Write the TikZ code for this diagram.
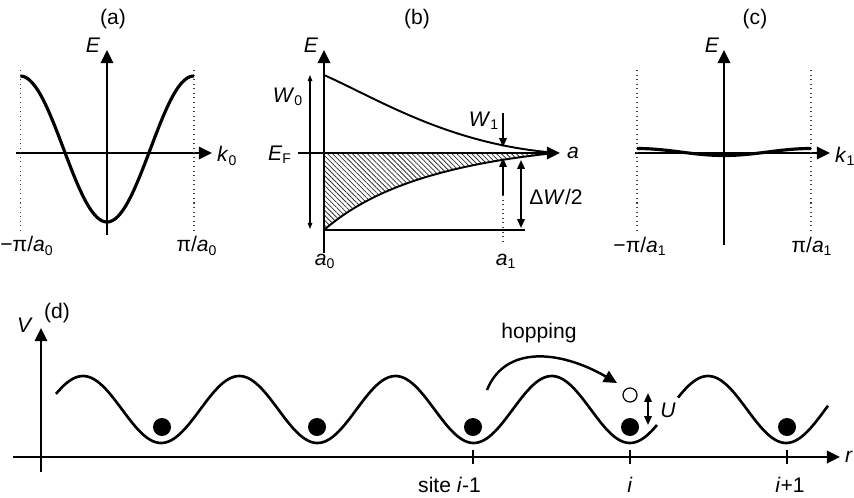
\documentclass[tikz,border=0pt]{standalone}
\usepackage{fontspec}
\setmainfont{Liberation Sans}
\usepackage{tikz}
\usetikzlibrary{arrows.meta,patterns.meta,calc}

\tikzset{
  axis/.style={line width=1.6pt,-{Triangle[length=7.5pt,width=7pt]}},
  band/.style={line width=1.8pt},
  zone/.style={line width=0.6pt,dotted,black!75},
  dimarrow/.style={line width=1pt,{Triangle[length=5pt,width=4.2pt]}-{Triangle[length=5pt,width=4.2pt]}},
  lbl/.style={font=\fontsize{12}{14}\selectfont,inner sep=0.5pt},
}

\begin{document}
\begin{tikzpicture}[x=0.02cm,y=-0.02cm]
  \useasboundingbox (0,0) rectangle (854,497);

  % (a) wide band at a_0
  \draw[axis] (107,235) -- (107,50) coordinate (Ea);
  \draw[axis] (16,153) -- (212,153) coordinate (ka);
  \draw[zone] (20.5,70) -- (20.5,230);
  \draw[zone] (194,70) -- (194,230);
  \draw[band] plot[domain=20.5:194,samples=90] (\x,{149+73*cos(360/173.5*(\x-107))});
  \node[lbl] (tita) at (113,19) {(a)};
  \node[lbl] (Elaba) at (93,45) {\textit{E}};
  \node[lbl,anchor=west] (klaba) at (216,156) {\textit{k}\textsubscript{0}};
  \node[lbl] (lefta) at (27,246) {−π/\textit{a}\textsubscript{0}};
  \node[lbl] (righta) at (197,246) {π/\textit{a}\textsubscript{0}};

  % (b) band width against lattice constant
  \fill[pattern={Lines[angle=-45,distance=2pt,line width=0.45pt]},pattern color=black!80]
    (324,153) -- (324,230) .. controls (370,190) and (440,165) .. (555,153) -- cycle;
  \draw[line width=1.1pt] (324,75) .. controls (380,100) and (450,145) .. (558,153);
  \draw[line width=1.1pt] (324,230) .. controls (370,190) and (440,165) .. (555,153);
  \draw[line width=0.9pt] (324,230) -- (525,230);
  \draw[axis] (324,253) -- (324,50) coordinate (Eb);
  \draw[axis] (298,153) -- (560,153) coordinate (ab);
  \draw[line width=0.6pt,{Triangle[length=3.5pt,width=2.6pt]}-{Triangle[length=3.5pt,width=2.6pt]}] (310,75) -- (310,229);
  \draw[line width=1pt,-{Triangle[length=5pt,width=4.2pt]}] (503,113) -- (503,147);
  \draw[line width=1pt,-{Triangle[length=5pt,width=4.2pt]}] (503,195) -- (503,158);
  \draw[zone] (503,195) -- (503,243);
  \draw[dimarrow] (521,160) -- (521,228);
  \node[lbl] (titb) at (417,19) {(b)};
  \node[lbl] (Elabb) at (311,45) {\textit{E}};
  \node[lbl] (Wzero) at (288,97) {\textit{W}\textsubscript{0}};
  \node[lbl] (Efermi) at (280,155) {\textit{E}\textsubscript{F}};
  \node[lbl] (Wone) at (484,121) {\textit{W}\textsubscript{1}};
  \node[lbl] (alab) at (573,153) {\textit{a}};
  \node[lbl] (dW) at (556,197) {Δ\textit{W}/2};
  \node[lbl] (azero) at (325,261) {\textit{a}\textsubscript{0}};
  \node[lbl] (aone) at (506,261) {\textit{a}\textsubscript{1}};

  % (c) narrow band at a_1
  \draw[axis] (724,245) -- (724,50) coordinate (Ec);
  \draw[axis] (635,153) -- (830,153) coordinate (kc);
  \draw[zone] (637,70) -- (637,230);
  \draw[zone] (811,70) -- (811,230);
  \draw[band] plot[domain=637:811,samples=60] (\x,{152+3.5*cos(360/174*(\x-724))});
  \node[lbl] (titc) at (755,19) {(c)};
  \node[lbl] (Elabc) at (712,45) {\textit{E}};
  \node[lbl,anchor=west] (klabc) at (834,156) {\textit{k}\textsubscript{1}};
  \node[lbl] (leftc) at (640,246) {−π/\textit{a}\textsubscript{1}};
  \node[lbl] (rightc) at (812,246) {π/\textit{a}\textsubscript{1}};

  % (d) periodic potential
  \draw[axis] (41,472) -- (41,328) coordinate (Vd);
  \draw[axis] (13,457) -- (840,457) coordinate (rd);
  \foreach \s in {473,630,787}
    \draw[line width=1.2pt] (\s,450) -- (\s,464);
  \draw[band,line width=1.5pt] plot[domain=56:657,samples=220] (\x,{409.5-33.5*cos(360/156.25*(\x-83))});
  \draw[band,line width=1.5pt] plot[domain=678:828,samples=60] (\x,{409.5-33.5*cos(360/156.25*(\x-83))});
  \foreach \s in {162,317,473,630,787}
    \fill (\s,427) circle[radius=9];
  \draw[line width=0.7pt] (630,395) circle[radius=7];
  \draw[dimarrow] (648,393) -- (648,425);
  \draw[line width=1.4pt,-{Triangle[length=7.5pt,width=7pt]}] (487,390) .. controls (505,345) and (560,350) .. (617,383);
  \node[lbl] (titd) at (57,313) {(d)};
  \node[lbl] (Vlab) at (25,325) {\textit{V}};
  \node[lbl] (hop) at (539,333) {hopping};
  \node[lbl] (Ulab) at (668,410) {\textit{U}};
  \node[lbl,anchor=east] (sitel) at (482,485) {site \textit{i}-1};
  \node[lbl] (sitem) at (630,485) {\textit{i}};
  \node[lbl] (siter) at (790,485) {\textit{i}+1};
  \node[lbl,anchor=west] (rlab) at (844,457) {\textit{r}};
\end{tikzpicture}
\end{document}
